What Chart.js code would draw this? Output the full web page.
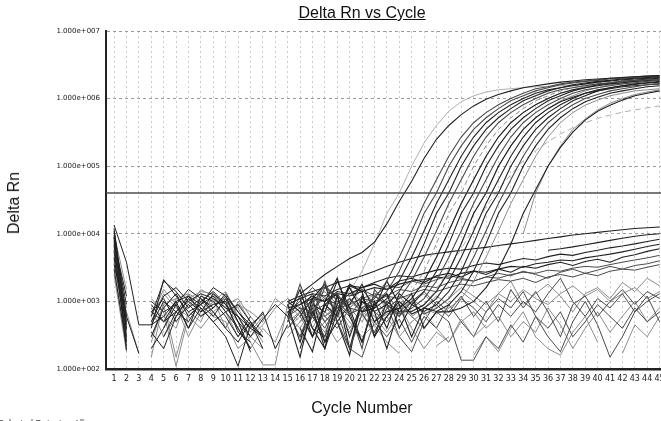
<!DOCTYPE html>
<html>
<head>
<meta charset="utf-8">
<script src="https://cdn.jsdelivr.net/npm/chart.js@4.4.1/dist/chart.umd.min.js"></script>
<style>
  html, body { margin: 0; padding: 0; background: #fff; overflow: hidden; }
  #wrap { position: relative; width: 661px; height: 421px; overflow: hidden; background: #fff; }
  #plot { position: absolute; left: 0; top: 0; }
  .txt { position: absolute; font-family: "Liberation Sans", Arial, sans-serif; color: #111; white-space: nowrap; }
  #title { left: 262px; width: 200px; top: 4px; font-size: 16px; line-height: 18px; text-align: center; text-decoration: underline; }
  #xTitle { left: 262px; width: 200px; top: 399px; font-size: 16px; line-height: 18px; text-align: center; }
  #yTitle { left: 14px; top: 203px; font-size: 16px; line-height: 18px; transform: translate(-50%, -50%) rotate(-90deg); }
  #footer { left: -2px; top: 418px; font-size: 9px; line-height: 10px; color: #333; }
</style>
</head>
<body>
<div id="wrap">
  <canvas id="plot" width="680" height="421"></canvas>
  <div class="txt" id="title">Delta Rn vs Cycle</div>
  <div class="txt" id="xTitle">Cycle Number</div>
  <div class="txt" id="yTitle">Delta Rn</div>
  <div class="txt" id="footer">Selected Detector: All</div>
</div>
<script>
// cycle axis + log axis ticks
const cycles = [1, 2, 3, 4, 5, 6, 7, 8, 9, 10, 11, 12, 13, 14, 15, 16, 17, 18, 19, 20, 21, 22, 23,
  24, 25, 26, 27, 28, 29, 30, 31, 32, 33, 34, 35, 36, 37, 38, 39, 40, 41, 42, 43, 44, 45];
const yTickValues = [1e2, 1e3, 1e4, 1e5, 1e6, 1e7];
const yTickLabels = ['1.000e+002', '1.000e+003', '1.000e+004', '1.000e+005', '1.000e+006', '1.000e+007'];
const thresholdRn = 4e4;

// early cycles (from cycle 1), one array per well
const earlyStart = 1;
const e01 = [13500, 3800, 450, 450, 1000, 700, 1200, 900, 600, 1100, 500, 300, null, null];
const e02 = [9000, 250, null, 600, 2000, 1400, 800, 1100, 700, 400, 250, 500, 200, null];
const e03 = [7000, 190, null, 300, 800, 1300, 600, 900, 1200, 700, 400, 200, null, null];
const e04 = [5500, 400, null, 900, 500, 700, 1000, 1300, 1100, 800, 600, 300, 550, 900, 600];
const e05 = [4500, 300, null, 450, 600, 1000, 1200, 700, 900, 1000, 350, 250, null, null];
const e06 = [3500, 600, 170, null, 300, 700, 500, 1000, 1400, 900, 600, 400, 700, 200, 450];
const e07 = [3000, 220, null, 700, 1100, 500, 900, 600, 800, 1200, 700, 450, 300, null];
const e08 = [8000, 900, null, 350, 200, 600, 1100, 800, 500, 700, 900, 500, 300, null];
const e09 = [11000, 500, null, 1000, 700, 900, 400, 1200, 1000, 600, 300, 600, null, null];
const e10 = [2500, 180, null, 250, 900, 150, 700, 500, 1300, 800, 500, 200, 400, 250, 700];
const e11 = [6000, 350, null, 500, 1300, 800, 600, 400, 700, 1000, 800, 350, 600, null];
const e12 = [4000, 700, 170, null, 400, 1100, 900, 1300, 600, 500, 200, 300, 450, 800, 1100];
const e13 = [10000, 1500, null, 800, 600, 400, 1300, 1000, 900, 1100, 600, 250, 115, 115, 900];
const e14 = [5000, 280, null, 600, 1500, 900, 300, 700, 1100, 400, 1000, 500, 250, null];
const e15 = [12000, 600, null, 500, 1200, 1600, 1000, 700, 1300, 900, 400, 200, null, null];
const e16 = [7500, 1200, null, 200, 400, 900, 1500, 1100, 800, 1300, 700, 400, 300, null];
const e17 = [3800, 200, null, 800, 300, 600, 800, 1500, 1200, 900, 1100, 600, 350, null];
const e18 = [9500, 450, null, 400, 2100, 1200, 700, 900, 1600, 1200, 500, 180, null, null];
const e19 = [6500, 320, null, 1100, 700, 110, 600, 1000, 700, 400, 900, 700, 500, 1100, 800];
const e20 = [4200, 800, null, 300, 900, 1100, 1300, 600, 1000, 1400, 600, 300, 200, null];
const e21 = [8800, 380, null, 700, 500, 1000, 400, 800, 500, 300, 110, 450, 650, null];
const e22 = [5800, 260, null, 150, 1000, 600, 1100, 1400, 1300, 700, 300, 500, null, null];

// cycles 15-45: amplifying wells
const lateStart = 15;
const amp01 = [null, 500, 650, 710, 890, 1400, 2800, 7100, 2e4, 4e4, 1e5, 2.2e5, 4e5, 6.5e5, 9e5, 1.1e6, 1.25e6, 1.35e6, 1.4e6, 1.45e6, 1.5e6, 1.52e6, 1.55e6, 1.6e6, 1.6e6, 1.62e6, 1.65e6, 1.65e6, 1.68e6, 1.7e6, 1.7e6];
const amp02 = [null, 1300, 1800, 2500, 3300, 4300, 5300, 7500, 1.4e4, 3e4, 6e4, 1.3e5, 2.5e5, 4e5, 5.8e5, 7.8e5, 9.8e5, 1.15e6, 1.3e6, 1.45e6, 1.55e6, 1.65e6, 1.75e6, 1.82e6, 1.9e6, 1.95e6, 2e6, 2.05e6, 2.1e6, 2.15e6, 2.2e6];
const amp03 = [null, 300, 900, 1800, 1000, 650, 800, 1100, 2000, 4500, 1.1e4, 2.8e4, 6.3e4, 1.4e5, 2.7e5, 4.4e5, 6.2e5, 8.1e5, 1e6, 1.2e6, 1.4e6, 1.5e6, 1.65e6, 1.75e6, 1.82e6, 1.9e6, 2e6, 2.05e6, 2.1e6, 2.15e6, 2.2e6];
const amp04 = [null, 200, 700, 250, 900, 1600, 700, 790, 1100, 2000, 4500, 1.1e4, 2.8e4, 6.3e4, 1.4e5, 2.7e5, 4.4e5, 6.2e5, 8.1e5, 1e6, 1.2e6, 1.35e6, 1.45e6, 1.55e6, 1.65e6, 1.75e6, 1.82e6, 1.9e6, 1.95e6, 2e6, 2.05e6];
const amp05 = [600, 1500, 400, 200, 1200, 300, 1000, 710, 890, 1400, 2800, 7100, 2e4, 4e4, 1e5, 2e5, 3.5e5, 5.2e5, 7.1e5, 9.3e5, 1.1e6, 1.3e6, 1.45e6, 1.6e6, 1.7e6, 1.8e6, 1.86e6, 1.95e6, 2e6, 2.05e6, 2.1e6];
const amp06 = [null, null, 600, 2000, 500, 200, 650, 350, 790, 1100, 2000, 4500, 1.1e4, 2.8e4, 6.3e4, 1.4e5, 2.7e5, 4.4e5, 6.2e5, 8.1e5, 1e6, 1.2e6, 1.35e6, 1.45e6, 1.55e6, 1.65e6, 1.72e6, 1.8e6, 1.85e6, 1.9e6, 1.95e6];
const amp07 = [700, 500, 900, 600, 800, 1000, 700, 900, 710, 890, 1400, 2800, 7100, 2e4, 4e4, 1e5, 2e5, 3.5e5, 5.2e5, 7.1e5, 9.3e5, 1.1e6, 1.3e6, 1.45e6, 1.6e6, 1.7e6, 1.8e6, 1.86e6, 1.95e6, 2e6, 2.05e6];
const amp08 = [900, 250, 1100, 1800, 500, 160, 1200, 500, 700, 790, 1100, 2000, 4500, 1.1e4, 2.8e4, 6.3e4, 1.4e5, 2.7e5, 4.4e5, 6.2e5, 8.1e5, 1e6, 1.2e6, 1.35e6, 1.45e6, 1.55e6, 1.65e6, 1.72e6, 1.8e6, 1.85e6, 1.9e6];
const amp09 = [null, 400, 180, 1000, 2200, 600, 250, 900, 1300, 400, 890, 1400, 2800, 7100, 2e4, 4e4, 1e5, 2e5, 3.5e5, 5.2e5, 7.1e5, 9.3e5, 1.1e6, 1.3e6, 1.45e6, 1.6e6, 1.7e6, 1.8e6, 1.86e6, 1.95e6, 2e6];
const amp10 = [500, 1800, 600, 300, 1300, 700, 200, 1500, 900, 650, 790, 1100, 2000, 4500, 1.1e4, 2.8e4, 6.3e4, 1.4e5, 2.7e5, 4.4e5, 6.2e5, 8.1e5, 1e6, 1.2e6, 1.35e6, 1.45e6, 1.55e6, 1.65e6, 1.72e6, 1.8e6, 1.85e6];
const amp11 = [700, null, 500, 800, 600, 1100, 800, 600, 1000, 1200, 710, 890, 1400, 2800, 7100, 2e4, 4e4, 1e5, 2e5, 3.5e5, 5.2e5, 7.1e5, 9.3e5, 1.1e6, 1.3e6, 1.45e6, 1.6e6, 1.7e6, 1.8e6, 1.86e6, 1.95e6];
const amp12 = [null, null, 800, 200, 700, 1800, 1400, 300, 600, 1000, 650, 790, 1100, 2000, 4500, 1.1e4, 2.8e4, 6.3e4, 1.4e5, 2.7e5, 4.4e5, 6.2e5, 8.1e5, 1e6, 1.2e6, 1.35e6, 1.45e6, 1.55e6, 1.62e6, 1.7e6, 1.75e6];
const amp13 = [600, 150, 900, 700, 2000, 800, 250, 1000, 400, 1300, 900, 710, 890, 1400, 2800, 7100, 2e4, 4e4, 1e5, 2e5, 3.5e5, 5.2e5, 7.1e5, 9.3e5, 1.1e6, 1.3e6, 1.45e6, 1.55e6, 1.65e6, 1.72e6, 1.8e6];
const amp14 = [null, 700, 1000, 500, 800, 1100, 700, 1200, 900, 600, 1000, 650, 790, 1100, 2000, 4500, 1.1e4, 2.8e4, 6.3e4, 1.4e5, 2.7e5, 4.4e5, 6.2e5, 8.1e5, 1e6, 1.15e6, 1.3e6, 1.4e6, 1.5e6, 1.6e6, 1.65e6];
const amp15 = [null, 1100, 300, 900, 1300, 200, 1000, 800, 2000, 900, 300, 800, 710, 890, 1400, 2800, 7100, 2e4, 4e4, 1e5, 2e5, 3.5e5, 5.2e5, 7.1e5, 9e5, 1.05e6, 1.2e6, 1.3e6, 1.4e6, 1.5e6, 1.55e6];
const amp16 = [500, 700, 400, 900, 600, 800, 500, 1000, 700, 900, 600, 800, 650, 790, 1100, 2000, 4500, 1.1e4, 2.8e4, 6.3e4, 1.4e5, 2.7e5, 4.4e5, 6.2e5, 8e5, 9.5e5, 1.1e6, 1.2e6, 1.3e6, 1.35e6, 1.4e6];
const amp17 = [null, 600, 1100, 250, 500, 900, 1800, 700, 200, 800, 1300, 400, 700, 700, 800, 1000, 1600, 3000, 7000, 2e4, 4.5e4, 1e5, 1.9e5, 3.2e5, 4.8e5, 6.5e5, 8e5, 9.5e5, 1.1e6, 1.2e6, 1.3e6];
const amp18 = [400, 600, 300, 700, 500, 350, 800, 450, 600, 300, 500, 700, 400, 250, 550, 300, 450, null, null, 1e4, 4e4, 1e5, 2e5, 3.5e5, 5e5, 6.8e5, 8.5e5, 1e6, 1.15e6, 1.25e6, 1.35e6];
const amp19 = [600, 900, 700, 500, 800, 1000, 700, 900, 600, 800, 700, 900, 1500, 3000, 6000, 1.2e4, 2.5e4, 4.5e4, 7.5e4, 1.2e5, 1.7e5, 2.3e5, 3e5, 3.7e5, 4.4e5, 5.1e5, 5.7e5, 6.3e5, 6.8e5, 7.3e5, 7.8e5];
const amp20 = [null, 500, 800, 600, 900, 400, 700, 500, 650, 790, 1100, 2000, 4500, 1.1e4, 2.8e4, 6.3e4, 1.4e5, 2.7e5, 4.4e5, 6.2e5, 8.1e5, 1e6, 1.2e6, 1.35e6, 1.5e6, 1.6e6, 1.7e6, 1.8e6, 1.86e6, 1.9e6, 1.95e6];
const amp21 = [700, 300, 600, 1600, 1200, 800, 710, 890, 1400, 2800, 7100, 2e4, 4e4, 1e5, 2e5, 3.5e5, 5.2e5, 7.1e5, 9.3e5, 1.1e6, 1.3e6, 1.45e6, 1.6e6, 1.7e6, 1.8e6, 1.86e6, 1.95e6, 2e6, 2.05e6, 2.1e6, 2.15e6];
const amp22 = [1000, 700, 300, 900, 600, 1700, 1400, 300, 1000, 700, 710, 890, 1400, 2800, 7100, 2e4, 4e4, 1e5, 2e5, 3.5e5, 5.2e5, 7.1e5, 9e5, 1.05e6, 1.2e6, 1.3e6, 1.4e6, 1.5e6, 1.55e6, 1.6e6, 1.65e6];

// cycles 15-45: slowly drifting wells (no real amplification)
const slow1 = [1000, 1200, 1400, 1600, 1900, 2100, 2400, 2800, 3300, 3800, 4300, 4800, 5100, 5400, 5700, 6000, 6300, 6700, 7100, 7500, 8000, 8500, 9000, 9600, 10000, 10500, 11000, 11500, 12000, 12300, 12600];
const slow2Start = 36;
const slow2 = [5700, 6000, 6400, 6900, 7400, 8000, 8600, 9200, 9700, 10000];
const slow3 = [800, 900, 1100, 1000, 1300, 1200, 1400, 1600, 1500, 1800, 2000, 2100, 2300, 2200, 2600, 2800, 2700, 3000, 3300, 3200, 3600, 3800, 4100, 4000, 4400, 4700, 5000, 5400, 5900, 6500, 7000];
const slow4 = [600, 800, 700, 900, 1000, 900, 1100, 1300, 1200, 1500, 1400, 1700, 1600, 1900, 2100, 2000, 2300, 2200, 2500, 2700, 2600, 2900, 2800, 3100, 3300, 3200, 3500, 3800, 4100, 4400, 4800];
const slow5 = [900, 1100, 1300, 1200, 1500, 1700, 1600, 1900, 2200, 2400, 2300, 2600, 2900, 3100, 3000, 3400, 3700, 3500, 3900, 4300, 4100, 4600, 5000, 4800, 5300, 5700, 6200, 6600, 7100, 7700, 8300];
const slow6 = [null, 500, 700, 600, 800, 900, 1100, 1000, 1200, 1100, 1300, 1500, 1400, 1600, 1800, 1700, 1900, 2100, 2000, 2200, 1900, 2300, 2500, 2300, 2600, 2400, 2800, 3000, 2900, 3200, 3500];
const slow7 = [700, 900, 1200, 1000, 1400, 1300, 1600, 1800, 1500, 2000, 2200, 1900, 2400, 2600, 2300, 2800, 2500, 3000, 2700, 3300, 3100, 3500, 3800, 3400, 3900, 4200, 3800, 4500, 4900, 5500, 6000];
const slow8 = [null, null, 800, 1100, 900, 1300, 1500, 1200, 1700, 1600, 2000, 1800, 2100, 2400, 2200, 2000, 2300, 2600, 2400, 2800, 2500, 2200, 2700, 3000, 2600, 2900, 3300, 3000, 3400, 3600, 4000];

// cycles 15-45: flat / noisy wells
const noise1 = [500, 1200, 700, 400, 900, 600, 1100, 700, 500, 900, 600, 400, 700, 500, 135, 135, 300, 200, 450, 250, 600, 400, 700, 300, 500, 900, 600, 400, 800, 500, 700];
const noise2 = [1100, 800, 400, 300, 700, 200, 150, 500, 900, 300, 180, 500, 1000, 700, 1200, 600, 1000, 500, 1500, 800, 1400, 700, 300, 900, 1200, 600, 1000, 1500, 900, 1400, 1100];
const noise3 = [300, 500, 1000, 1400, 900, 1300, 1000, 600, 350, 700, 1100, 800, 1200, 900, 1400, 1000, 700, 1300, 2000, 900, 1300, 1800, 1200, 700, 1300, 1600, 1100, 1900, 1400, 2200, 1700];
const noise4 = [null, 250, 600, 350, 800, 500, 300, 450, 250, 170, null, null, 220, 300, null, 160, 300, 180, 400, 700, 300, 200, 160, 350, 600, 250, null, 170, 450, 300, 600];
const noise5 = [700, 1000, 1600, 1100, 700, 1000, 1500, 900, 1300, 700, 1000, 1400, 900, 600, 1100, 800, 500, 900, 600, 1000, 700, 1300, 2200, 1000, 600, 1100, 800, 1300, 700, 1000, 1300];
const noise6 = [900, 600, 300, 500, 250, 400, 700, 300, 600, 900, 400, 200, 350, 250, 500, 700, 400, 600, 300, 500, 350, 800, 450, 200, 400, 700, 350, 600, 1000, 500, 800];
const noise7 = [400, 700, 1300, 600, 400, 800, 1200, 500, 300, 550, 250, 600, 400, 900, 500, 300, 700, 1100, 800, 1400, 600, 300, 180, 500, 1000, 450, 150, 300, 700, 1200, 500];
const noise8 = [600, 400, 800, 1200, 700, 1600, 900, 1300, 800, 600, 1000, 1300, 800, 1100, 1600, 1200, 900, 1300, 1000, 1500, 1100, 900, 1300, 1700, 1200, 1500, 1000, 1300, 1600, 1100, 1400];

const DARK = '#202020';
const MID = '#4a4a4a';
const GREY = '#8c8c8c';
const PALE = '#b0b0b0';

function trace(values, start, color, opts) {
    opts = opts || {};
    return {
        data: values.map((v, i) => ({ x: start + i, y: v })),
        borderColor: color,
        borderWidth: opts.width || 1,
        borderDash: opts.dash || [],
        pointRadius: 0,
        fill: false,
        tension: 0
    };
}

const datasets = [];

// threshold line across the whole plot
datasets.push({
    data: [{ x: 0, y: thresholdRn }, { x: 50, y: thresholdRn }],
    borderColor: '#4d4d4d', borderWidth: 1.5, pointRadius: 0, fill: false
});

[amp02, amp03, amp04, amp05, amp06, amp08, amp09, amp10, amp12, amp13, amp14, amp15, amp17, amp21, amp22]
    .forEach((s, i) => datasets.push(trace(s, lateStart, i % 3 === 1 ? MID : DARK, { width: 1.1 })));
[amp11, amp16, amp18, amp20].forEach(s => datasets.push(trace(s, lateStart, GREY)));
datasets.push(trace(amp01, lateStart, PALE));
datasets.push(trace(amp07, lateStart, GREY, { dash: [5, 3] }));
datasets.push(trace(amp19, lateStart, PALE, { dash: [6, 4] }));

[slow1, slow3, slow5, slow7].forEach(s => datasets.push(trace(s, lateStart, DARK, { width: 1.1 })));
[slow4, slow6, slow8].forEach(s => datasets.push(trace(s, lateStart, MID)));
datasets.push(trace(slow2, slow2Start, DARK, { width: 1.1 }));

[noise1, noise2, noise5, noise7].forEach(s => datasets.push(trace(s, lateStart, MID)));
[noise3, noise4, noise6, noise8].forEach(s => datasets.push(trace(s, lateStart, GREY)));

[e01, e02, e03, e04, e05, e06, e07, e08, e09, e15, e16, e18, e21].forEach(s => datasets.push(trace(s, earlyStart, DARK)));
[e10, e11, e12, e13, e14, e17, e19, e20, e22].forEach(s => datasets.push(trace(s, earlyStart, GREY)));

new Chart(document.getElementById('plot'), {
    type: 'line',
    data: { datasets: datasets },
    options: {
        responsive: false,
        animation: false,
        layout: { padding: { top: 31, right: 8, bottom: 0, left: 0 } },
        plugins: {
            legend: { display: false },
            tooltip: { enabled: false },
            title: { display: false }
        },
        scales: {
            x: {
                type: 'linear',
                min: 0.35,
                max: 46,
                afterBuildTicks: scale => { scale.ticks = cycles.map(v => ({ value: v })); },
                afterFit: scale => { scale.height = 52; },
                ticks: {
                    autoSkip: false,
                    maxRotation: 0,
                    padding: 5,
                    color: '#1a1a1a',
                    font: { family: 'DejaVu Sans', size: 8 },
                    callback: v => String(v)
                },
                grid: { color: '#cccccc', lineWidth: 1, drawTicks: false },
                border: { display: true, color: '#222', width: 2.5, dash: [2, 3] }
            },
            y: {
                type: 'logarithmic',
                min: 1e2,
                max: 1e7,
                afterBuildTicks: scale => { scale.ticks = yTickValues.map(v => ({ value: v })); },
                afterFit: scale => { scale.width = 106; },
                ticks: {
                    padding: 6,
                    color: '#1a1a1a',
                    font: { family: 'DejaVu Sans', size: 7 },
                    callback: v => yTickLabels[yTickValues.indexOf(v)]
                },
                grid: { color: '#9a9a9a', lineWidth: 1, drawTicks: false },
                border: { display: true, color: '#222', width: 2, dash: [3, 3] }
            }
        }
    }
});
</script>
</body>
</html>
